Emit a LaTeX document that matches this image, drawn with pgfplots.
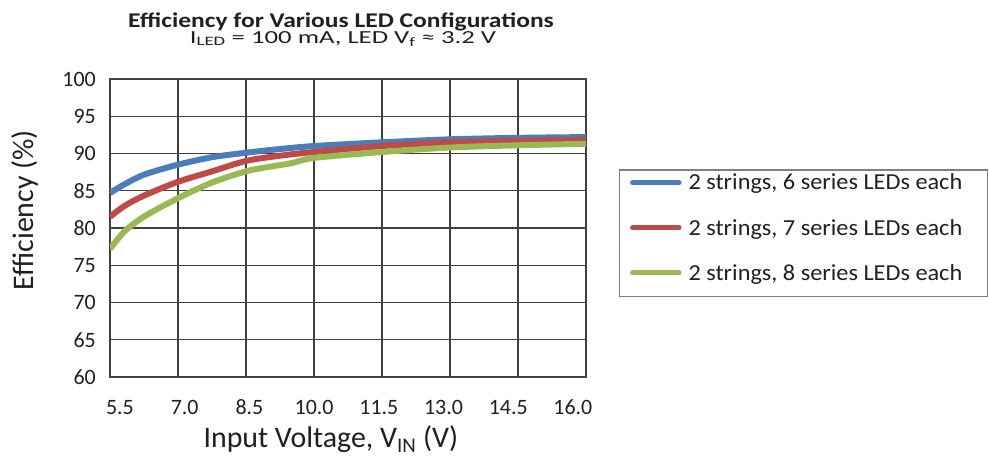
\documentclass[border=0pt]{standalone}
\usepackage{fontspec}
\setmainfont{Carlito}
\newfontfamily\titlefont{Carlito}[FakeStretch=1.22]
\newfontfamily\subfont{Carlito}[FakeStretch=1.45]
\newfontfamily\legfont{Carlito}[FakeStretch=1.06]
\usepackage{pgfplots}
\pgfplotsset{compat=1.18}
\definecolor{cblue}{HTML}{4A7EBB}
\definecolor{cred}{HTML}{BE4B48}
\definecolor{cgreen}{HTML}{98B954}
\definecolor{gridc}{HTML}{404040}
\definecolor{legc}{HTML}{808080}
\definecolor{txt}{HTML}{231F20}
\begin{document}
\begin{tikzpicture}[x=1bp,y=1bp]
\path[use as bounding box] (0,0) rectangle (989,459);
\begin{axis}[
  at={(110bp,82bp)}, anchor=south west,
  scale only axis, width=476bp, height=298bp,
  xmin=5.5, xmax=16, ymin=60, ymax=100,
  xtick={5.5,7,8.5,10,11.5,13,14.5,16},
  xticklabels={},
  extra x ticks={5.72,7.148,8.575,10.002,11.43,12.857,14.284,15.711},
  extra x tick labels={5.5,7.0,8.5,10.0,11.5,13.0,14.5,16.0},
  extra x tick style={grid=none, major tick length=0pt,
     xticklabel style={anchor=base, yshift=-38bp}},
  ytick={60,65,70,75,80,85,90,95,100},
  yticklabel style={anchor=east, inner sep=0pt, xshift=-14bp},
  tick style={draw=none},
  major tick length=0pt,
  grid=major,
  major grid style={line width=1.3bp, color=gridc},
  axis line style={line width=1.3bp, color=gridc},
  ticklabel style={font=\fontsize{22}{24}\selectfont, text=txt},
  /pgf/number format/assume math mode=true,
  xlabel={Input Voltage, V\textsubscript{IN} (V)},
  xlabel style={at={(axis description cs:0.464,0)}, anchor=base, yshift=-70.3bp,
     font=\fontsize{30}{34}\selectfont, text=txt},
  ylabel={Efficiency (\%)},
  ylabel style={at={(axis description cs:-0.161,0.560)}, anchor=base,
     font=\fontsize{30}{34}\selectfont, text=txt},
  legend cell align=left,
  legend style={at={(rel axis cs:1.069,0.695)}, anchor=north west,
     draw=none, fill=none,
     font=\legfont\fontsize{23}{26}\selectfont, text=txt,
     inner xsep=11bp, inner ysep=4bp,
     row sep=27.7bp,
     nodes={inner sep=0pt},
     /tikz/every odd column/.append style={column sep=7bp}},
  legend image code/.code={\draw[#1, line width=5bp, line cap=round] (2.5bp,0bp) -- (49bp,0bp);},
]
\addplot[cblue, line width=6bp, smooth, tension=0.5] coordinates {
(5.5,84.7) (5.83,85.9) (6.27,87.2) (7.0,88.5) (7.75,89.5) (8.5,90.1)
(9.25,90.6) (10,91.0) (11.5,91.5) (13,91.9) (14.5,92.1) (16,92.2)};
\addlegendentry{2 strings, 6 series LEDs each}
\addplot[cred, line width=6bp, smooth, tension=0.5] coordinates {
(5.5,81.5) (5.83,83.0) (6.27,84.4) (7.0,86.2) (7.75,87.6) (8.5,89.0)
(9.25,89.7) (10,90.2) (11.5,91.0) (13,91.5) (14.5,91.7) (16,91.8)};
\addlegendentry{2 strings, 7 series LEDs each}
\addplot[cgreen, line width=6bp, smooth, tension=0.5] coordinates {
(5.5,77.2) (5.83,79.6) (6.27,81.6) (7.0,84.0) (7.75,86.1) (8.5,87.6)
(9.0,88.2) (9.5,88.7) (10,89.4) (11.5,90.2) (13,90.8) (14.5,91.1) (16,91.3)};
\addlegendentry{2 strings, 8 series LEDs each}
\end{axis}
\draw[legc, line width=1.2bp] (619.6,289) rectangle (987.8,162.3);
\node[anchor=base, inner sep=0pt, text=txt] at (341,431.5) {\titlefont\fontsize{21}{24}\selectfont\bfseries Efficiency for Various LED Configurations};
\node[anchor=base, inner sep=0pt, text=txt] at (343,415.7) {\subfont\fontsize{18.5}{22}\selectfont I\textsubscript{LED} = 100 mA, LED V\textsubscript{f} ≈ 3.2 V};
\end{tikzpicture}
\end{document}
